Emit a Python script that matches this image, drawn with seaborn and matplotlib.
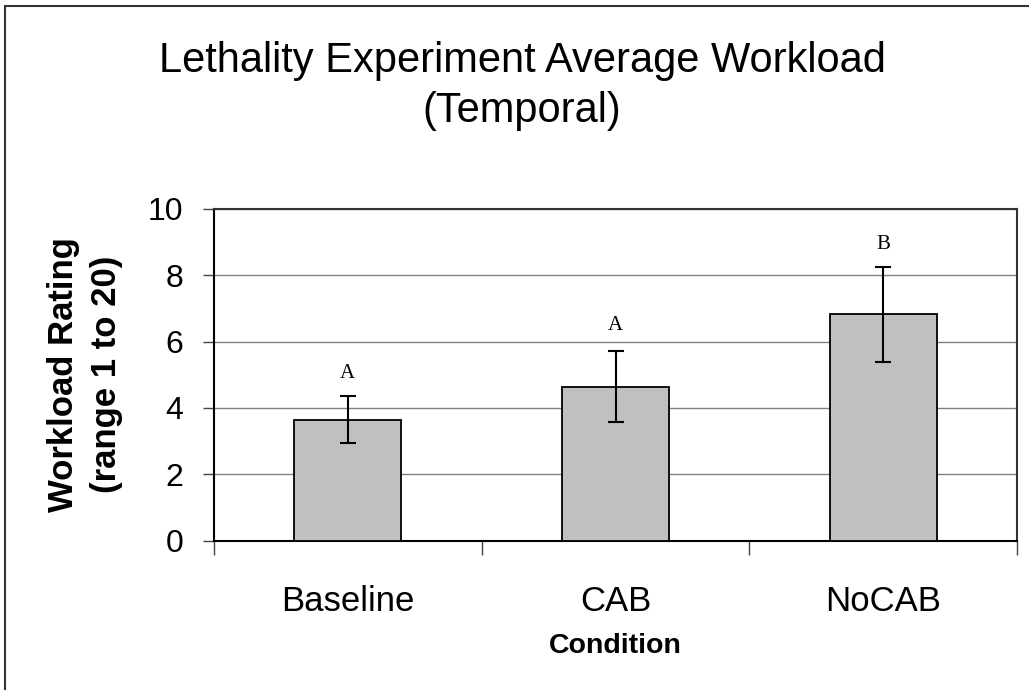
import matplotlib
matplotlib.use("Agg")
import matplotlib.pyplot as plt
import seaborn as sns
import pandas as pd
from matplotlib.lines import Line2D

conditions = ["Baseline", "CAB", "NoCAB"]
means = [3.65, 4.64, 6.82]
errors = [0.72, 1.08, 1.43]
letters = ["A", "A", "B"]
letter_y = [5.05, 6.48, 8.93]
yticks = [0, 2, 4, 6, 8, 10]

sns.set_theme(style="white")
plt.rcParams['font.family'] = ['Liberation Sans', 'DejaVu Sans']
plt.rcParams['text.color'] = 'black'
plt.rcParams['axes.labelcolor'] = 'black'
plt.rcParams['xtick.color'] = 'black'
plt.rcParams['ytick.color'] = 'black'

fig = plt.figure(figsize=(10.29, 6.9), dpi=100)
ax = fig.add_axes([214/1029, 1 - 540.5/690, (1017-214)/1029, (540.5-209)/690])

df = pd.DataFrame({"Condition": conditions, "Rating": means})
sns.barplot(data=df, x="Condition", y="Rating", color="#C0C0C0", width=0.4,
            edgecolor="black", linewidth=1.3, saturation=1, ax=ax, zorder=3)
for p in ax.patches:
    p.set_facecolor("#C0C0C0")

ax.errorbar(range(len(conditions)), means, yerr=errors, fmt="none",
            ecolor="black", elinewidth=1.5, capsize=6, capthick=1.5, zorder=4)

for i, (l, y) in enumerate(zip(letters, letter_y)):
    ax.text(i, y, l, ha="center", va="center", fontsize=15,
            family=["Liberation Serif", "DejaVu Serif"], color="black")

ax.set_xlim(-0.5, 2.5)
ax.set_ylim(0, 10)
ax.set_yticks(yticks)
ax.set_yticklabels([str(t) for t in yticks], fontsize=23)
ax.yaxis.grid(True, color="#808080", linewidth=1.0, zorder=0)
ax.xaxis.grid(False)
ax.set_axisbelow(True)

ax.set_xticks(range(len(conditions)))
ax.set_xticklabels(conditions, fontsize=25)
ax.set_xticks([-0.5, 0.5, 1.5, 2.5], minor=True)
ax.tick_params(axis="x", which="major", length=0, pad=32)
ax.tick_params(axis="x", which="minor", length=10, width=1.0, color="#444444", direction="out", bottom=True)
ax.tick_params(axis="y", which="major", length=8, width=1.0, color="#444444", direction="out", left=True, pad=14)

for s in ["left", "bottom"]:
    ax.spines[s].set_color("black")
    ax.spines[s].set_linewidth(1.5)
for s in ["top", "right"]:
    ax.spines[s].set_color("#333333")
    ax.spines[s].set_linewidth(1.5)

ax.set_xlabel("Condition", fontsize=20.5, fontweight="bold", labelpad=11)
ax.set_ylabel("Workload Rating\n(range 1 to 20)", fontsize=25, fontweight="bold",
              labelpad=18, linespacing=1.4)

fig.text(522/1029, 1 - 86/690, "Lethality Experiment Average Workload\n(Temporal)",
         ha="center", va="center", fontsize=30, linespacing=1.35)

fig.add_artist(Line2D([5/1029, 5/1029], [0, 1 - 6/690], transform=fig.transFigure,
                      color="#333333", linewidth=1.5))
fig.add_artist(Line2D([5/1029, 1], [1 - 6/690, 1 - 6/690], transform=fig.transFigure,
                      color="#333333", linewidth=1.5))

fig.savefig("out.png", dpi=100, facecolor="white")
